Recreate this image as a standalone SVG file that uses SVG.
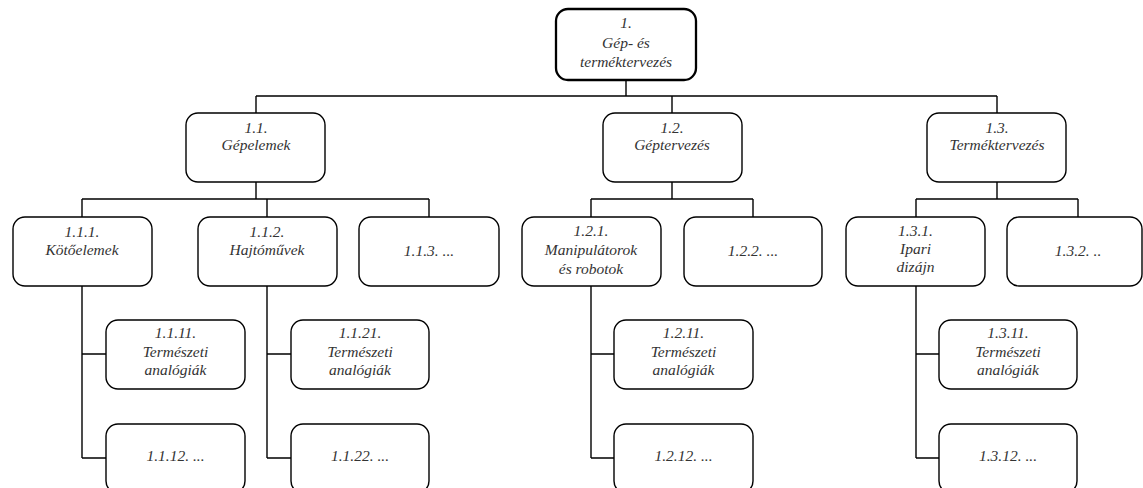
<svg xmlns="http://www.w3.org/2000/svg" width="1143" height="488" viewBox="0 0 1143 488">
<style>
.box{fill:#fff;stroke:#000;stroke-width:1.4}
.root{fill:#fff;stroke:#000;stroke-width:2.3}
.c{fill:none;stroke:#000;stroke-width:1.4}
.t text{fill:#333;text-anchor:middle}
</style>
<rect width="1143" height="488" fill="#fff"/>
<g id="connectors">
<path class="c" d="M626 80V96M256 96H997M256 96V113M672 96V113M997 96V113"/>
<path class="c" d="M256 182V199M82 199H429M82 199V217M267 199V217M429 199V217"/>
<path class="c" d="M672 182V199M591 199H753M591 199V217M753 199V217"/>
<path class="c" d="M997 182V199M916 199H1078M916 199V217M1078 199V217"/>
<path class="c" d="M82 286V458M82 354H106M82 458H106"/>
<path class="c" d="M267 286V458M267 354H291M267 458H291"/>
<path class="c" d="M591 286V458M591 354H614M591 458H614"/>
<path class="c" d="M916 286V458M916 354H939M916 458H939"/>
</g>
<g class="t" font-family="Liberation Serif, Liberation Sans, serif" font-style="italic" font-size="15.5">
<g id="n1"><rect class="root" x="556" y="9" width="140" height="71" rx="12"/>
<text x="626" y="28">1.</text><text x="626" y="48">Gép- és</text><text x="626" y="67">terméktervezés</text></g>
<g id="n1_1"><rect class="box" x="186" y="113" width="139" height="69" rx="12"/>
<text x="256" y="132.5">1.1.</text><text x="256" y="150">Gépelemek</text></g>
<g id="n1_2"><rect class="box" x="603" y="113" width="139" height="69" rx="12"/>
<text x="672" y="132.5">1.2.</text><text x="672" y="150">Géptervezés</text></g>
<g id="n1_3"><rect class="box" x="927" y="113" width="139" height="69" rx="12"/>
<text x="997" y="132.5">1.3.</text><text x="997" y="150">Terméktervezés</text></g>
<g id="n1_1_1"><rect class="box" x="13" y="217" width="139" height="69" rx="12"/>
<text x="82" y="236.5">1.1.1.</text><text x="82" y="254.5">Kötőelemek</text></g>
<g id="n1_1_2"><rect class="box" x="198" y="217" width="139" height="69" rx="12"/>
<text x="267" y="236.5">1.1.2.</text><text x="267" y="254.5">Hajtóművek</text></g>
<g id="n1_1_3"><rect class="box" x="359" y="217" width="140" height="69" rx="12"/>
<text x="429" y="256">1.1.3. ...</text></g>
<g id="n1_2_1"><rect class="box" x="522" y="217" width="139" height="69" rx="12"/>
<text x="591" y="235.5">1.2.1.</text><text x="591" y="254.5">Manipulátorok</text><text x="591" y="273.5">és robotok</text></g>
<g id="n1_2_2"><rect class="box" x="684" y="217" width="138" height="69" rx="12"/>
<text x="753" y="256">1.2.2. ...</text></g>
<g id="n1_3_1"><rect class="box" x="846" y="217" width="139" height="69" rx="12"/>
<text x="915.5" y="235.5">1.3.1.</text><text x="915.5" y="254">Ipari</text><text x="915.5" y="272">dizájn</text></g>
<g id="n1_3_2"><rect class="box" x="1007" y="217" width="135" height="69" rx="12"/>
<text x="1078" y="256">1.3.2. ..</text></g>
<g id="n1_1_11"><rect class="box" x="106" y="320" width="139" height="69" rx="12"/>
<text x="175.5" y="337.5">1.1.11.</text><text x="175.5" y="356.5">Természeti</text><text x="175.5" y="375">analógiák</text></g>
<g id="n1_1_12"><rect class="box" x="106" y="424" width="139" height="69" rx="12"/>
<text x="175.5" y="460.5">1.1.12. ...</text></g>
<g id="n1_1_21"><rect class="box" x="291" y="320" width="138" height="69" rx="12"/>
<text x="360" y="337.5">1.1.21.</text><text x="360" y="356.5">Természeti</text><text x="360" y="375">analógiák</text></g>
<g id="n1_1_22"><rect class="box" x="291" y="424" width="138" height="69" rx="12"/>
<text x="360" y="460.5">1.1.22. ...</text></g>
<g id="n1_2_11"><rect class="box" x="614" y="320" width="139" height="69" rx="12"/>
<text x="683.5" y="337.5">1.2.11.</text><text x="683.5" y="356.5">Természeti</text><text x="683.5" y="375">analógiák</text></g>
<g id="n1_2_12"><rect class="box" x="614" y="424" width="139" height="69" rx="12"/>
<text x="683.5" y="460.5">1.2.12. ...</text></g>
<g id="n1_3_11"><rect class="box" x="939" y="320" width="138" height="69" rx="12"/>
<text x="1008" y="337.5">1.3.11.</text><text x="1008" y="356.5">Természeti</text><text x="1008" y="375">analógiák</text></g>
<g id="n1_3_12"><rect class="box" x="939" y="424" width="138" height="69" rx="12"/>
<text x="1008" y="460.5">1.3.12. ...</text></g>
</g>
</svg>
